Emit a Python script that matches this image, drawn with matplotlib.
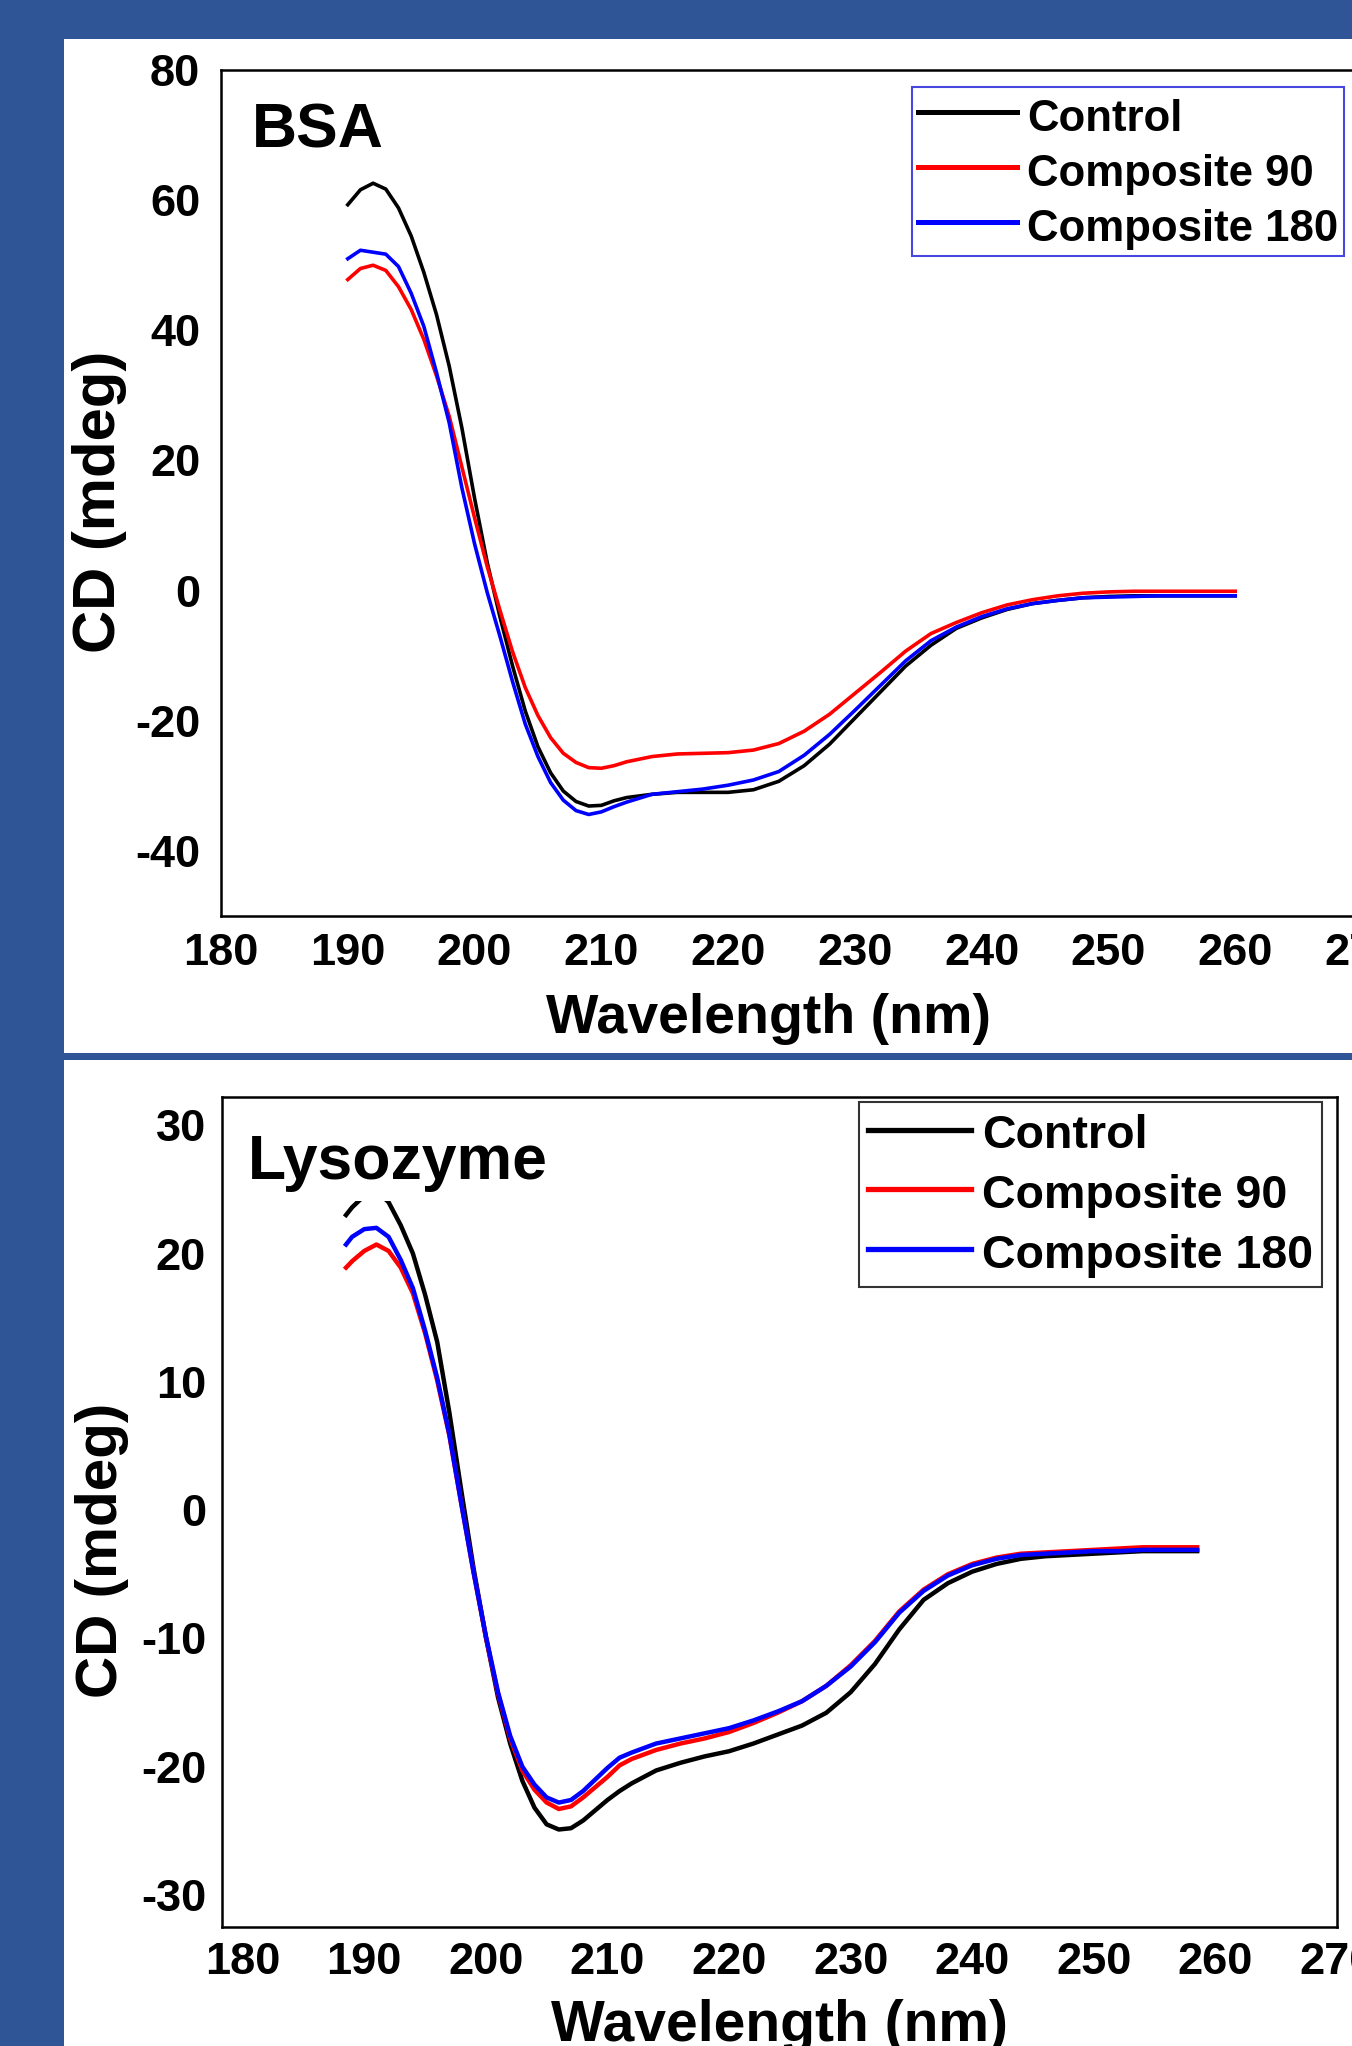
import numpy as np
import matplotlib
matplotlib.use('Agg')
import matplotlib.pyplot as plt
from matplotlib.patches import Rectangle

plt.rcParams['font.family'] = ['Liberation Sans', 'DejaVu Sans']
plt.rcParams['font.weight'] = 'bold'
plt.rcParams['axes.unicode_minus'] = False

# ---- Dados: BSA ----
bsa_wl = [190, 191, 192, 193, 194, 195, 196, 197, 198, 199, 200, 201, 202, 203, 204, 205,
          206, 207, 208, 209, 210, 211, 212, 214, 216, 218, 220, 222, 224, 226, 228, 230,
          232, 234, 236, 238, 240, 242, 244, 246, 248, 250, 252, 254, 256, 258, 260]
bsa_control = [59.3, 61.6, 62.6, 61.7, 58.8, 54.5, 48.9, 42.4, 34.5, 25.0, 14.2, 4.3, -4.0,
               -11.6, -18.5, -24.0, -28.0, -30.8, -32.4, -33.1, -33.0, -32.3, -31.8, -31.3,
               -31.0, -31.0, -31.0, -30.6, -29.3, -26.9, -23.6, -19.6, -15.6, -11.6, -8.4,
               -5.8, -4.2, -2.9, -2.0, -1.5, -1.1, -0.9, -0.8, -0.8, -0.8, -0.8, -0.8]
bsa_comp90 = [47.8, 49.5, 50.0, 49.2, 46.7, 43.2, 38.6, 33.0, 26.8, 19.0, 11.2, 3.7, -3.0,
              -9.4, -14.9, -19.2, -22.6, -25.0, -26.4, -27.2, -27.3, -26.9, -26.3, -25.5,
              -25.1, -25.0, -24.9, -24.5, -23.5, -21.6, -19.0, -15.8, -12.6, -9.3, -6.6,
              -4.9, -3.4, -2.2, -1.4, -0.8, -0.4, -0.2, -0.1, -0.1, -0.1, -0.1, -0.1]
bsa_comp180 = [51.0, 52.3, 52.0, 51.7, 49.8, 45.7, 40.6, 33.5, 25.8, 15.8, 7.2, -0.3, -7.0,
               -14.0, -20.5, -25.5, -29.5, -32.2, -33.8, -34.4, -34.0, -33.2, -32.5, -31.3,
               -30.9, -30.5, -29.9, -29.1, -27.8, -25.3, -22.1, -18.4, -14.6, -10.8, -7.7,
               -5.6, -4.0, -2.8, -2.0, -1.5, -1.1, -1.0, -0.9, -0.8, -0.8, -0.8, -0.8]

# ---- Dados: Lisozima ----
lys_wl = [188.5, 189, 190, 191, 192, 193, 194, 195, 196, 197, 198, 199, 200, 201, 202, 203,
          204, 205, 206, 207, 208, 209, 210, 211, 212, 214, 216, 218, 220, 222, 224, 226,
          228, 230, 232, 234, 236, 238, 240, 242, 244, 246, 248, 250, 252, 254, 256, 258.5]
lys_control = [23.0, 23.6, 24.5, 24.9, 24.0, 22.2, 20.0, 16.8, 13.1, 7.6, 1.4, -4.6, -9.9,
               -14.6, -18.2, -21.1, -23.2, -24.5, -24.9, -24.8, -24.2, -23.4, -22.6, -21.9,
               -21.3, -20.3, -19.7, -19.2, -18.8, -18.2, -17.5, -16.8, -15.8, -14.2, -12.0,
               -9.3, -7.0, -5.7, -4.8, -4.2, -3.8, -3.6, -3.5, -3.4, -3.3, -3.2, -3.2, -3.2]
lys_comp90 = [18.9, 19.4, 20.2, 20.7, 20.2, 18.9, 16.9, 13.8, 10.1, 5.8, 0.4, -4.9, -9.9,
              -14.3, -17.8, -20.3, -21.8, -22.8, -23.3, -23.1, -22.4, -21.6, -20.8, -19.9,
              -19.4, -18.7, -18.2, -17.8, -17.3, -16.6, -15.8, -14.9, -13.7, -12.1, -10.2,
              -7.9, -6.2, -5.0, -4.2, -3.7, -3.4, -3.3, -3.2, -3.1, -3.0, -2.9, -2.9, -2.9]
lys_comp180 = [20.7, 21.3, 21.9, 22.0, 21.3, 19.5, 17.3, 14.0, 10.3, 5.9, 0.4, -4.9, -9.8,
               -14.2, -17.6, -20.0, -21.4, -22.4, -22.8, -22.6, -21.9, -21.0, -20.1, -19.3,
               -18.9, -18.2, -17.8, -17.4, -17.0, -16.4, -15.7, -14.9, -13.7, -12.2, -10.3,
               -8.0, -6.3, -5.1, -4.3, -3.8, -3.5, -3.4, -3.3, -3.2, -3.2, -3.1, -3.1, -3.1]

nomes = ['Control', 'Composite 90', 'Composite 180']
cores = ['black', 'red', 'blue']

W, H = 1352, 2046
fundo = '#2F5597'

fig = plt.figure(figsize=(W / 100, H / 100), dpi=100, facecolor=fundo)

# paineis brancos
fig.add_artist(Rectangle((64 / W, 1 - 1053 / H), (W - 64) / W, (1053 - 39) / H,
                         transform=fig.transFigure, facecolor='white', edgecolor='none', zorder=-1))
fig.add_artist(Rectangle((64 / W, 0), (W - 64) / W, (2046 - 1060) / H,
                         transform=fig.transFigure, facecolor='white', edgecolor='none', zorder=-1))

ax1 = fig.add_axes([221 / W, 1 - 916 / H, 1141 / W, 846 / H])
ax2 = fig.add_axes([222 / W, 1 - 1927 / H, 1115 / W, 830 / H])

# Grafico 1: BSA
for y, nome, cor in zip([bsa_control, bsa_comp90, bsa_comp180], nomes, cores):
    ax1.plot(bsa_wl, y, color=cor, lw=2.6, label=nome)
ax1.set_xlim(180, 270)
ax1.set_ylim(-50, 80)
ax1.set_xticks(np.arange(180, 271, 10))
ax1.set_yticks(np.arange(-40, 81, 20))
ax1.tick_params(axis='x', length=0, pad=12.5, labelsize=32.5)
ax1.tick_params(axis='y', length=0, pad=15, labelsize=32.5)
ax1.set_xlabel('Wavelength (nm)', fontsize=40, fontweight='bold')
ax1.xaxis.set_label_coords(0.48, -0.091)
ax1.set_ylabel('CD (mdeg)', fontsize=43, fontweight='bold')
ax1.yaxis.set_label_coords(-0.082, 0.49)
ax1.text(252 / W, 1 - 148 / H, 'BSA', transform=fig.transFigure, fontsize=45,
         fontweight='bold', va='baseline')
leg1 = ax1.legend(loc='upper left', bbox_to_anchor=(912 / W, 1 - 87 / H),
                  bbox_transform=fig.transFigure, prop={'weight': 'bold', 'size': 31.5},
                  frameon=True, fancybox=False, edgecolor='#4848E0', framealpha=1,
                  borderpad=0.14, labelspacing=0.2, handlelength=2.25, handleheight=1.22,
                  handletextpad=0.24, borderaxespad=0)
leg1.get_frame().set_linewidth(1.5)
for ln in leg1.get_lines():
    ln.set_linewidth(3.6)

# Grafico 2: Lisozima
for y, nome, cor in zip([lys_control, lys_comp90, lys_comp180], nomes, cores):
    ax2.plot(lys_wl, y, color=cor, lw=3.2, label=nome)
ax2.set_xlim(178.3, 268.4)
ax2.set_ylim(-32.5, 32.2)
ax2.set_xticks(np.arange(180, 271, 10))
ax2.set_yticks(np.arange(-30, 31, 10))
ax2.tick_params(axis='x', length=0, pad=11, labelsize=32.5)
ax2.tick_params(axis='y', length=0, pad=11.5, labelsize=32.5)
ax2.set_xlabel('Wavelength (nm)', fontsize=41, fontweight='bold')
ax2.xaxis.set_label_coords(0.50, -0.087)
ax2.set_ylabel('CD (mdeg)', fontsize=42, fontweight='bold')
ax2.yaxis.set_label_coords(-0.083, 0.454)
ax2.text(248 / W, 1 - 1179 / H, 'Lysozyme', transform=fig.transFigure, fontsize=45,
         fontweight='bold', va='baseline',
         bbox=dict(boxstyle='square,pad=0.14', facecolor='white', edgecolor='none'))
leg2 = ax2.legend(loc='upper left', bbox_to_anchor=(859 / W, 1 - 1102 / H),
                  bbox_transform=fig.transFigure, prop={'weight': 'bold', 'size': 33.5},
                  frameon=True, fancybox=False, edgecolor='#333333', framealpha=1,
                  borderpad=0.2, labelspacing=0.28, handlelength=2.2, handleheight=1.0,
                  handletextpad=0.24, borderaxespad=0)
leg2.get_frame().set_linewidth(1.5)
for ln in leg2.get_lines():
    ln.set_linewidth(3.8)

for ax in (ax1, ax2):
    for s in ax.spines.values():
        s.set_linewidth(1.8)

fig.savefig('out.png', dpi=100, facecolor=fundo)
